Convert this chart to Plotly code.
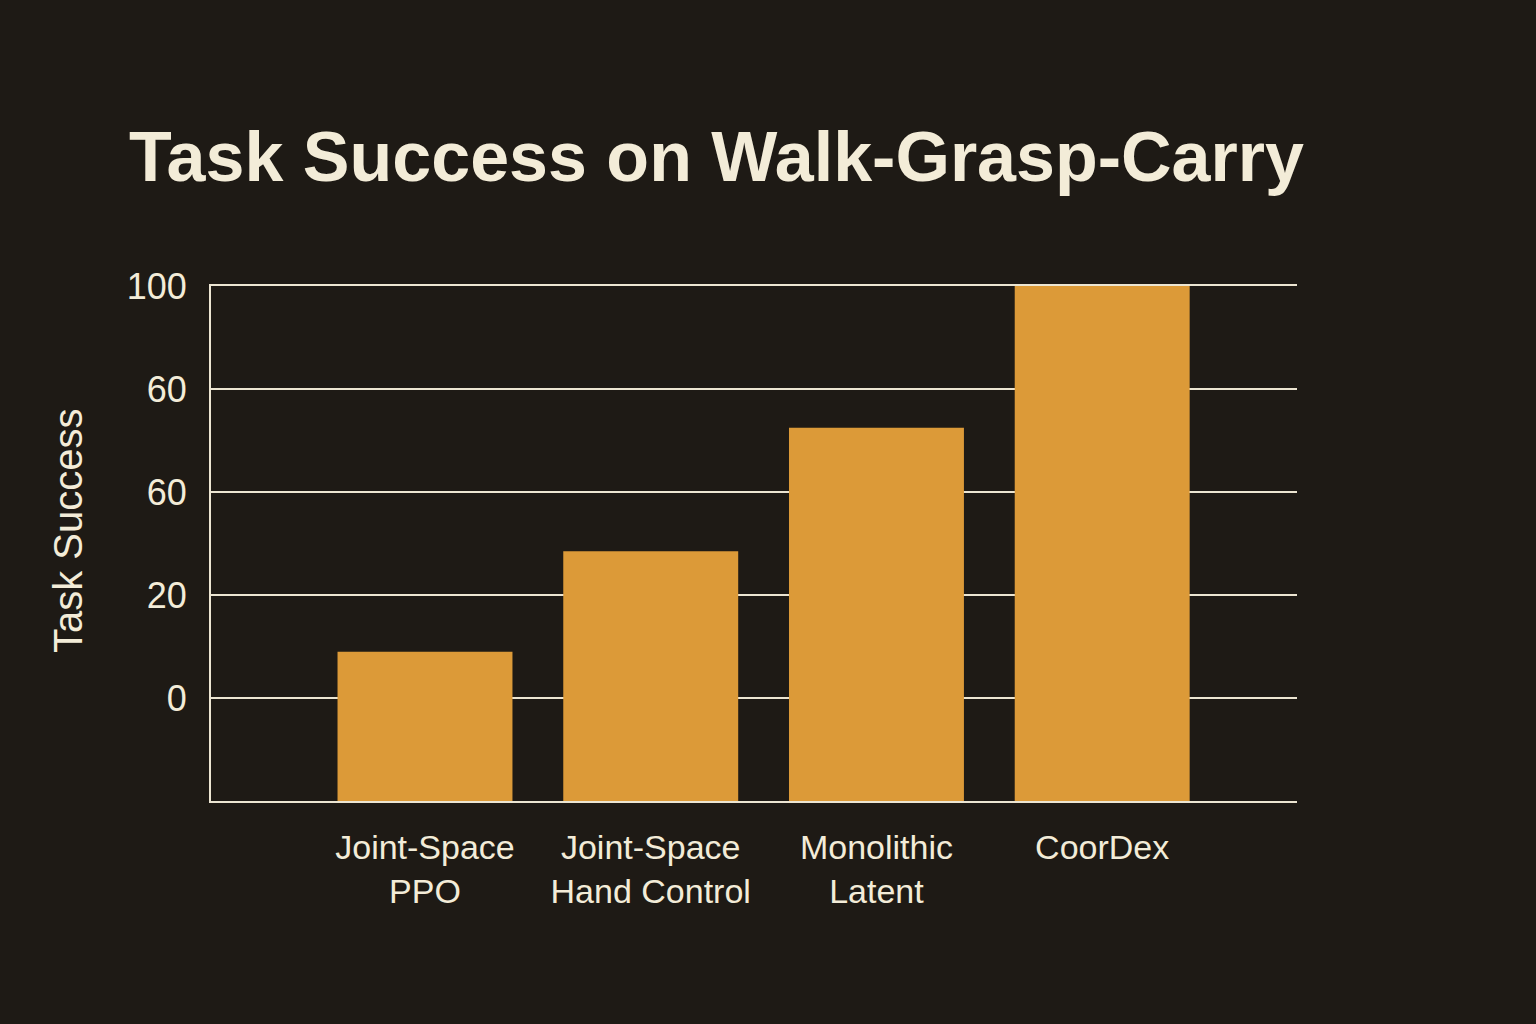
import plotly.graph_objects as go

# Data (values in axis units; axis bottom sits at -20)
methods = ["Joint-Space<br>PPO", "Joint-Space<br>Hand Control", "Monolithic<br>Latent", "CoorDex"]
success = [9, 28.5, 52.5, 80]
tick_vals = [0, 20, 40, 60, 80]
tick_text = ["0", "20", "60", "60", "100"]
axis_floor = -20

BG = "#1e1a15"
BAR = "#dc9a38"
TEXT = "#f3ecd8"
GRID = "#ece5d2"
FONT = "Liberation Sans"


def main():
    fig = go.Figure()
    fig.add_trace(go.Bar(
        x=methods,
        y=[v - axis_floor for v in success],
        base=axis_floor,
        marker=dict(color=BAR, line=dict(width=0)),
        hoverinfo="skip",
    ))

    fig.update_layout(
        width=1536,
        height=1024,
        paper_bgcolor=BG,
        plot_bgcolor=BG,
        margin=dict(l=211, r=239, t=286, b=223),
        bargap=0.225,
        showlegend=False,
        font=dict(family=FONT, color=TEXT),
        title=dict(
            text="<b>Task Success on Walk-Grasp-Carry</b>",
            font=dict(family=FONT, size=70, color=TEXT),
            x=0.084, xanchor="left",
            y=0.847, yanchor="middle",
        ),
        # y-axis title drawn as annotation so it can sit a bit above centre
        annotations=[dict(
            text="Task Success",
            xref="paper", yref="paper",
            x=-0.1317, y=0.526,
            xanchor="center", yanchor="middle",
            textangle=-90,
            showarrow=False,
            font=dict(family=FONT, size=40, color=TEXT),
        )],
    )

    fig.update_xaxes(
        range=[-0.948, 3.863],
        showgrid=False,
        showline=True,
        linecolor=GRID,
        linewidth=2,
        mirror=True,
        ticks="outside",
        ticklen=15,
        tickcolor=BG,
        tickfont=dict(family=FONT, size=34, color=TEXT),
    )
    fig.update_yaxes(
        range=[axis_floor, 80],
        tickvals=tick_vals,
        ticktext=tick_text,
        showgrid=True,
        gridcolor=GRID,
        gridwidth=2,
        zeroline=False,
        showline=True,
        linecolor=GRID,
        linewidth=2,
        ticks="outside",
        ticklen=15,
        tickcolor=BG,
        tickfont=dict(family=FONT, size=36, color=TEXT),
    )

    fig.write_html(
        "out.html",
        config={"displayModeBar": False},
        post_script="document.body.style.margin='0';",
    )


if __name__ == "__main__":
    main()
